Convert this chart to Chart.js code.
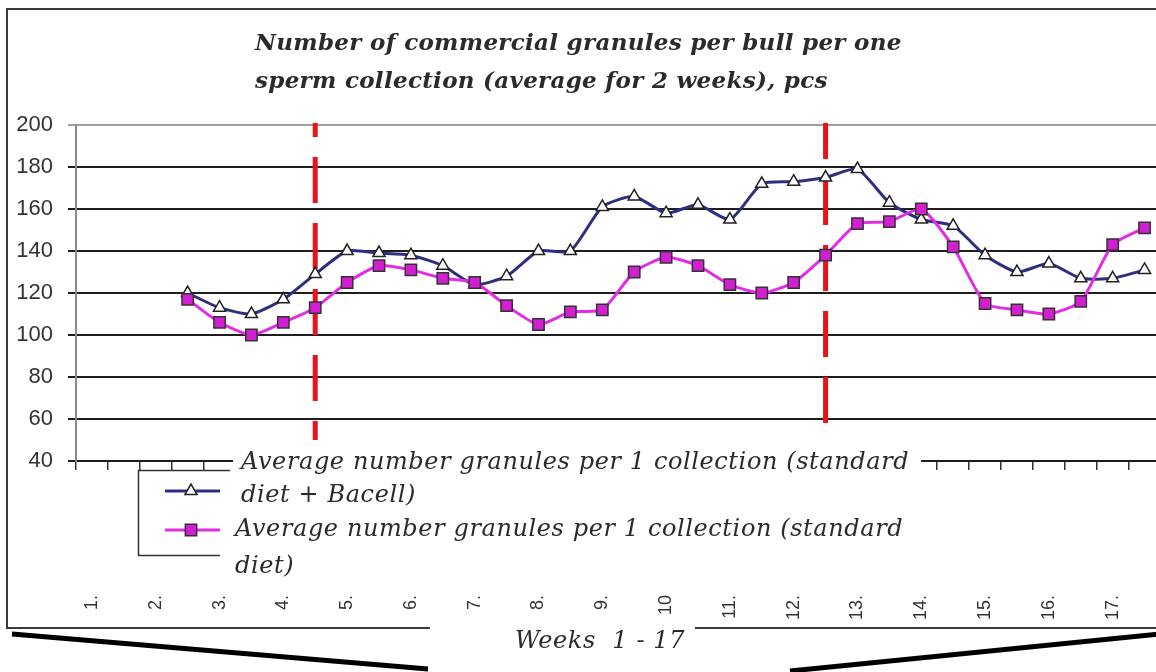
<!DOCTYPE html>
<html lang="en">
<head>
<meta charset="utf-8">
<title>Commercial granules per bull per sperm collection</title>
<script src="https://cdn.jsdelivr.net/npm/chart.js@4.4.1/dist/chart.umd.min.js"></script>
<style>
  html, body { margin: 0; padding: 0; background: #fff; overflow: hidden; }
  #wrap { position: relative; width: 1170px; height: 672px; }
  #chart { display: block; }
  .txt {
    position: absolute;
    white-space: nowrap;
    font-family: "DejaVu Serif", "Liberation Serif", serif;
    font-style: italic;
    color: #2b2b2b;
    line-height: 1;
  }
  .title { font-weight: bold; font-size: 23px; left: 255px; letter-spacing: 0.3px; }
  .lg { font-size: 24px; letter-spacing: 0.6px; background: #fff; padding: 0 12px 0 8px; }
  .axis-title { font-size: 24px; letter-spacing: 0.6px; width: 240px; text-align: center; left: 480px; top: 628px; }
</style>
</head>
<body>
<div id="wrap">
  <canvas id="chart" width="1170" height="672"></canvas>
  <div class="txt title" style="top:30px">Number of commercial granules per bull per one</div>
  <div class="txt title" style="top:68px">sperm collection (average for 2 weeks), pcs</div>
  <div class="txt axis-title">Weeks&nbsp; 1 - 17</div>
</div>
<script>
// ── data (half-week points, categories 0..33) ─────────────────
const weekLabels = [
  "1.", "", "2.", "", "3.", "", "4.", "", "5.", "", "6.", "", "7.", "", "8.", "", "9.", "",
  "10", "", "11.", "", "12.", "", "13.", "", "14.", "", "15.", "", "16.", "", "17.", ""
];

const bacellValues = [
  null, null, null,
  120, 113, 110, 117, 129, 140, 139, 138, 133, 124, 128, 140, 140, 161, 166, 158,
  162, 155, 172, 173, 175, 179, 163, 155, 152, 138, 130, 134, 127, 127, 131
];

const standardValues = [
  null, null, null,
  117, 106, 100, 106, 113, 125, 133, 131, 127, 125, 114, 105, 111, 112, 130, 137,
  133, 124, 120, 125, 138, 153, 154, 160, 142, 115, 112, 110, 116, 143, 151
];

const seriesNames = [
  "Average number granules per 1 collection (standard diet + Bacell)",
  "Average number granules per 1 collection (standard diet)"
];

const yTicks = [40, 60, 80, 100, 120, 140, 160, 180, 200];

// period boundaries (category index) and the value where each dashed line stops
const phaseBreaks = [7, 23];
const phaseBreakEnds = [50, 58];

(function () {
  "use strict";

  // ── layout bits (pixels) ────────────────────────────────────
  const DASH_OFFSETS = [32, 10];
  const LEGEND_SYMBOL_Y = [491, 530];
  const LEGEND_TEXT_X = [241, 235];
  const LEGEND_ROW_TOP = [[449, 482], [516, 553]];

  // ── red dashed period lines ────────────────────────────────
  const phaseLines = {
    id: "phaseLines",
    beforeDatasetsDraw(chart) {
      const { ctx, scales } = chart;
      ctx.save();
      ctx.strokeStyle = "#e8141c";
      ctx.lineWidth = 5;
      ctx.setLineDash([46, 20]);
      phaseBreaks.forEach(function (idx, i) {
        const px = scales.x.getPixelForValue(idx);
        ctx.lineDashOffset = DASH_OFFSETS[i];
        ctx.beginPath();
        ctx.moveTo(px, scales.y.getPixelForValue(yTicks[yTicks.length - 1]) - 2);
        ctx.lineTo(px, scales.y.getPixelForValue(phaseBreakEnds[i]));
        ctx.stroke();
      });
      ctx.restore();
    }
  };

  // ── legend box + symbols (text is html) ────────────────────
  const boxLegend = {
    id: "boxLegend",
    afterDraw(chart) {
      const ctx = chart.ctx;
      ctx.save();
      ctx.strokeStyle = "#333";
      ctx.lineWidth = 1.5;
      ctx.beginPath();
      ctx.moveTo(230, 470.5);
      ctx.lineTo(138.5, 470.5);
      ctx.lineTo(138.5, 555.5);
      ctx.lineTo(220, 555.5);
      ctx.stroke();

      chart.data.datasets.forEach(function (ds, i) {
        const yy = LEGEND_SYMBOL_Y[i];
        ctx.strokeStyle = ds.borderColor;
        ctx.lineWidth = ds.borderWidth;
        ctx.beginPath();
        ctx.moveTo(165, yy);
        ctx.lineTo(220, yy);
        ctx.stroke();
        ctx.fillStyle = ds.pointBackgroundColor;
        ctx.strokeStyle = ds.pointBorderColor;
        ctx.lineWidth = ds.pointBorderWidth;
        Chart.helpers.drawPoint(ctx, {
          pointStyle: ds.pointStyle,
          radius: ds.pointRadius,
          rotation: 0,
          borderWidth: ds.pointBorderWidth
        }, 191, yy);
      });
      ctx.restore();
    }
  };

  // ── outer frame + the scanned page edges ───────────────────
  const frame = {
    id: "frame",
    afterDraw(chart) {
      const ctx = chart.ctx;
      ctx.save();
      ctx.strokeStyle = "#3a3a3a";
      ctx.lineWidth = 2;
      ctx.beginPath();
      ctx.moveTo(1170, 9);
      ctx.lineTo(7, 9);
      ctx.lineTo(7, 628);
      ctx.lineTo(430, 628);
      ctx.moveTo(695, 628);
      ctx.lineTo(1170, 628);
      ctx.stroke();

      ctx.strokeStyle = "#000";
      ctx.lineWidth = 5;
      ctx.beginPath();
      ctx.moveTo(12, 634);
      ctx.lineTo(428, 669);
      ctx.moveTo(790, 671);
      ctx.lineTo(1170, 633);
      ctx.stroke();
      ctx.restore();
    }
  };

  // ── html legend text ───────────────────────────────────────
  function buildLegendText() {
    const wrap = document.getElementById("wrap");
    seriesNames.forEach(function (name, i) {
      const lines = name.replace(" diet", "\ndiet").split("\n");
      lines.forEach(function (line, j) {
        const el = document.createElement("div");
        el.className = "txt lg";
        el.textContent = line;
        el.style.left = (LEGEND_TEXT_X[i] - 8) + "px";
        el.style.top = LEGEND_ROW_TOP[i][j] + "px";
        wrap.appendChild(el);
      });
    });
  }

  // ── chart ──────────────────────────────────────────────────
  function initChart() {
    const canvas = document.getElementById("chart");

    new Chart(canvas, {
      type: "line",
      data: {
        labels: weekLabels,
        datasets: [
          {
            label: seriesNames[0],
            data: bacellValues,
            borderColor: "#2f2f80",
            borderWidth: 3,
            pointStyle: "triangle",
            pointRadius: 7,
            pointBackgroundColor: "#ffffff",
            pointBorderColor: "#222222",
            pointBorderWidth: 1.5,
            tension: 0.2,
            order: 2
          },
          {
            label: seriesNames[1],
            data: standardValues,
            borderColor: "#e22ee2",
            borderWidth: 3,
            pointStyle: "rect",
            pointRadius: 8,
            pointBackgroundColor: "#d21fd2",
            pointBorderColor: "#333333",
            pointBorderWidth: 1.5,
            tension: 0.2,
            order: 1
          }
        ]
      },
      options: {
        responsive: false,
        animation: false,
        layout: { padding: { top: 125, left: 0, right: 6, bottom: 18 } },
        plugins: {
          legend: { display: false },
          tooltip: { enabled: false },
          title: { display: false }
        },
        scales: {
          x: {
            type: "category",
            offset: true,
            afterFit: function (scale) {
              // labels sit far below the axis; don't let that padding eat the sides
              scale.height = 193;
              scale.paddingLeft = 0;
              scale.paddingRight = 0;
            },
            grid: {
              display: true,
              drawOnChartArea: false,
              drawTicks: true,
              tickLength: 9,
              offset: true,
              color: "#333",
              lineWidth: 1.5
            },
            border: { display: true, color: "#1e1e1e", width: 2 },
            ticks: {
              autoSkip: false,
              maxRotation: 90,
              minRotation: 90,
              padding: 125,
              color: "#333",
              font: { family: "'Liberation Sans', Arial, sans-serif", size: 18 }
            }
          },
          y: {
            min: yTicks[0],
            max: yTicks[yTicks.length - 1],
            afterFit: function (scale) { scale.width = 76; },
            afterBuildTicks: function (scale) {
              scale.ticks = yTicks.map(function (v) { return { value: v }; });
            },
            grid: {
              color: function (c) {
                return c.tick && c.tick.value === yTicks[yTicks.length - 1] ? "#a0a0a0" : "#1e1e1e";
              },
              lineWidth: 2,
              tickLength: 8
            },
            border: { display: true, color: "#8a8a8a", width: 2 },
            ticks: {
              padding: 15,
              color: "#333",
              font: { family: "'Liberation Sans', Arial, sans-serif", size: 22 }
            }
          }
        }
      },
      plugins: [phaseLines, boxLegend, frame]
    });
  }

  buildLegendText();
  initChart();
})();
</script>
</body>
</html>
